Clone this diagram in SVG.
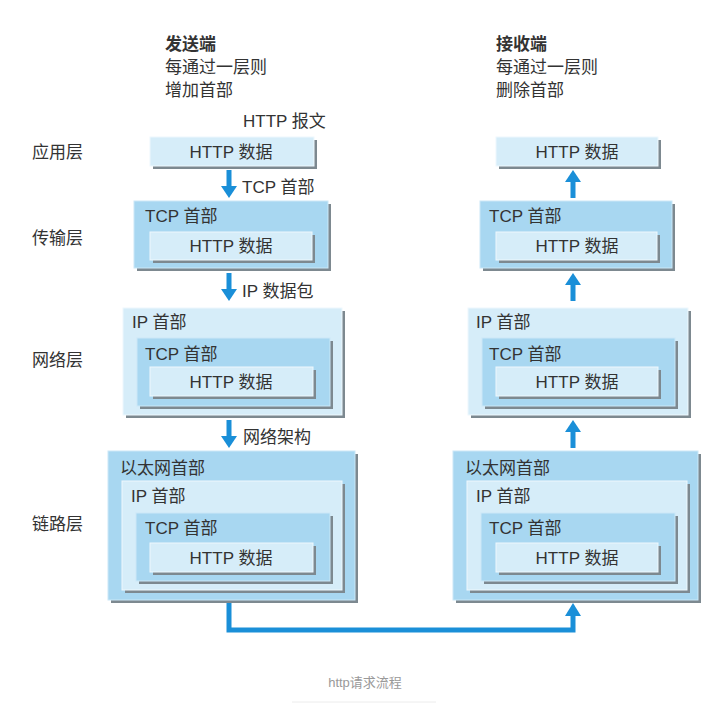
<svg xmlns="http://www.w3.org/2000/svg" width="728" height="707" viewBox="0 0 728 707">
<defs>
<style>
text{font-family:"Liberation Sans","Noto Sans CJK SC",sans-serif;fill:#333;font-size:17px}
.hd{font-weight:bold}
.c{text-anchor:middle}
.sh{fill:#7d8990}
.lt{fill:#d6edf9;stroke:#eef8fd;stroke-width:1}
.md{fill:#a8d7f1;stroke:#cbe8f7;stroke-width:1}
.cap{fill:#999;font-size:13px}
.arr{fill:#1a8fd8}
.ln{fill:none;stroke:#1a8fd8;stroke-width:5}
</style>
<g id="a-down"><rect x="-2.5" y="0" width="5" height="18" class="arr"/><polygon points="-8,16 8,16 0,28" class="arr"/></g>
<g id="a-up"><rect x="-2.5" y="10" width="5" height="18" class="arr"/><polygon points="-8,12 8,12 0,0" class="arr"/></g>
</defs>
<rect width="728" height="707" fill="#fff"/>

<g id="headings">
<text x="165" y="50" class="hd">发送端</text>
<text x="165" y="73">每通过一层则</text>
<text x="165" y="96">增加首部</text>
<text x="496" y="50" class="hd">接收端</text>
<text x="496" y="73">每通过一层则</text>
<text x="496" y="96">删除首部</text>
<text x="243" y="127">HTTP 报文</text>
</g>

<g id="layer-labels">
<text x="32" y="158">应用层</text>
<text x="32" y="244">传输层</text>
<text x="32" y="366">网络层</text>
<text x="32" y="530">链路层</text>
</g>

<!-- Sender side -->
<g id="s-app">
<rect x="153" y="140" width="164" height="29" class="sh"/>
<rect x="150" y="137" width="164" height="29" class="lt"/>
<text x="231" y="158" class="c">HTTP 数据</text>
</g>
<g id="s-transport">
<rect x="137" y="204" width="194" height="67" class="sh"/>
<rect x="134" y="201" width="194" height="67" class="md"/>
<text x="145" y="222">TCP 首部</text>
<rect x="153" y="235" width="162" height="28" class="sh"/>
<rect x="150" y="232" width="162" height="28" class="lt"/>
<text x="231" y="252" class="c">HTTP 数据</text>
</g>
<g id="s-network">
<rect x="126" y="311" width="219" height="107" class="sh"/>
<rect x="123" y="308" width="219" height="107" class="lt"/>
<text x="132" y="328">IP 首部</text>
<rect x="140" y="341" width="193" height="68" class="sh"/>
<rect x="137" y="338" width="193" height="68" class="md"/>
<text x="145" y="360">TCP 首部</text>
<rect x="153" y="370" width="163" height="29" class="sh"/>
<rect x="150" y="367" width="163" height="29" class="lt"/>
<text x="231" y="388" class="c">HTTP 数据</text>
</g>
<g id="s-link">
<rect x="111" y="454" width="247" height="149" class="sh"/>
<rect x="108" y="451" width="247" height="149" class="md"/>
<text x="120" y="474">以太网首部</text>
<rect x="125" y="484" width="220" height="109" class="sh"/>
<rect x="122" y="481" width="220" height="109" class="lt"/>
<text x="131" y="502">IP 首部</text>
<rect x="139" y="516" width="194" height="68" class="sh"/>
<rect x="136" y="513" width="194" height="68" class="md"/>
<text x="145" y="534">TCP 首部</text>
<rect x="153" y="546" width="163" height="29" class="sh"/>
<rect x="150" y="543" width="163" height="29" class="lt"/>
<text x="231" y="564" class="c">HTTP 数据</text>
</g>

<!-- Receiver side -->
<g id="r-app">
<rect x="499" y="140" width="162" height="29" class="sh"/>
<rect x="496" y="137" width="162" height="29" class="lt"/>
<text x="577" y="158" class="c">HTTP 数据</text>
</g>
<g id="r-transport">
<rect x="483" y="204" width="192" height="67" class="sh"/>
<rect x="480" y="201" width="192" height="67" class="md"/>
<text x="489" y="222">TCP 首部</text>
<rect x="499" y="235" width="161" height="28" class="sh"/>
<rect x="496" y="232" width="161" height="28" class="lt"/>
<text x="577" y="252" class="c">HTTP 数据</text>
</g>
<g id="r-network">
<rect x="471" y="311" width="220" height="107" class="sh"/>
<rect x="468" y="308" width="220" height="107" class="lt"/>
<text x="476" y="328">IP 首部</text>
<rect x="485" y="341" width="193" height="68" class="sh"/>
<rect x="482" y="338" width="193" height="68" class="md"/>
<text x="489" y="360">TCP 首部</text>
<rect x="499" y="370" width="162" height="29" class="sh"/>
<rect x="496" y="367" width="162" height="29" class="lt"/>
<text x="577" y="388" class="c">HTTP 数据</text>
</g>
<g id="r-link">
<rect x="456" y="454" width="245" height="149" class="sh"/>
<rect x="453" y="451" width="245" height="149" class="md"/>
<text x="465" y="474">以太网首部</text>
<rect x="470" y="484" width="220" height="109" class="sh"/>
<rect x="467" y="481" width="220" height="109" class="lt"/>
<text x="476" y="502">IP 首部</text>
<rect x="484" y="516" width="194" height="68" class="sh"/>
<rect x="481" y="513" width="194" height="68" class="md"/>
<text x="489" y="534">TCP 首部</text>
<rect x="499" y="546" width="162" height="29" class="sh"/>
<rect x="496" y="543" width="162" height="29" class="lt"/>
<text x="577" y="564" class="c">HTTP 数据</text>
</g>

<g id="connectors">
<use href="#a-down" x="229" y="170"/>
<use href="#a-down" x="229" y="273"/>
<use href="#a-down" x="229" y="420"/>
<use href="#a-up" x="573" y="170"/>
<use href="#a-up" x="573" y="273"/>
<use href="#a-up" x="573" y="420"/>
<polyline points="229,603 229,630 573,630 573,612" class="ln"/>
<polygon points="565,616 581,616 573,603" class="arr"/>
<text x="242" y="193">TCP 首部</text>
<text x="242" y="297">IP 数据包</text>
<text x="243" y="443">网络架构</text>
</g>

<g id="caption">
<text x="365" y="687" class="c cap">http请求流程</text>
<line x1="292" y1="702" x2="436" y2="702" stroke="#ececec" stroke-width="1"/>
</g>
</svg>
